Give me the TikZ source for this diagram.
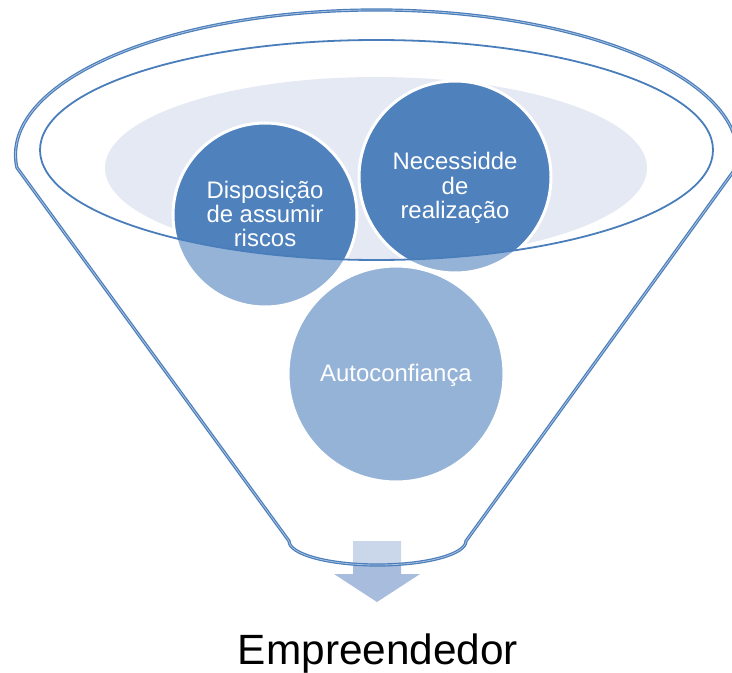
\documentclass[tikz,border=0pt]{standalone}
\usepackage{fontspec}
\setmainfont{Liberation Sans}
\definecolor{ringblue}{HTML}{4A7EBB}
\definecolor{ringcore}{HTML}{A9C1DF}
\definecolor{ballblue}{HTML}{4F81BD}
\definecolor{basinfill}{HTML}{E4E9F3}
\definecolor{arrowfill}{HTML}{A8BCDD}
\tikzset{
  ball/.style={circle, inner sep=0pt, fill=ballblue, draw=white, line width=3bp},
  balltext/.style={text=white, align=center, font=\fontsize{24}{24.5}\selectfont},
  rimline/.style={draw=ringblue, line width=1.8bp},
  funnelline/.style={draw=ringblue, double=ringcore, double distance=0.8bp, line width=1.2bp},
}
\begin{document}
\begin{tikzpicture}[x=1bp,y=-1bp]
\useasboundingbox (0,0) rectangle (732,673);

% shaded basin inside the mouth
\fill[basinfill] (376,168) ellipse [x radius=271, y radius=91];

% the three trait balls
\node[ball, minimum size=184bp] (risk) at (265,215) {};
\node[ball, minimum size=192bp] (need) at (455,177) {};
\node[ball, minimum size=216bp] (self) at (396,374) {};

% outflow arrow below the funnel
\fill[arrowfill] (353,541) -- (401,541) -- (401,574) -- (420,574) -- (377,602)
  -- (334,574) -- (353,574) -- cycle;

% translucent front of the funnel body
\fill[white, fill opacity=0.4, even odd rule]
  (16.9,167.6) arc[start angle=175, end angle=365, x radius=361, y radius=145]
  -- (466,541) arc[start angle=0, end angle=180, x radius=88.5, y radius=24] -- cycle
  (376.5,150) ellipse [x radius=336.5, y radius=110];

% inner rim of the mouth
\draw[rimline] (376.5,150) ellipse [x radius=336.5, y radius=110];

% funnel outline
\draw[funnelline]
  (16.9,167.6) arc[start angle=175, end angle=365, x radius=361, y radius=145]
  -- (466,541) arc[start angle=0, end angle=180, x radius=88.5, y radius=24] -- cycle;

% labels of the balls
\node[balltext] (risklabel) at (265,214) {Disposição\\de assumir\\riscos};
\node[balltext] (needlabel) at (455,188) {Necessidde\\de\\realização};
\node[balltext] (selflabel) at (396,375) {Autoconfiança};

\node[anchor=base, font=\fontsize{42.5}{42.5}\selectfont] (out) at (378,664) {Empreendedor};
\end{tikzpicture}
\end{document}
